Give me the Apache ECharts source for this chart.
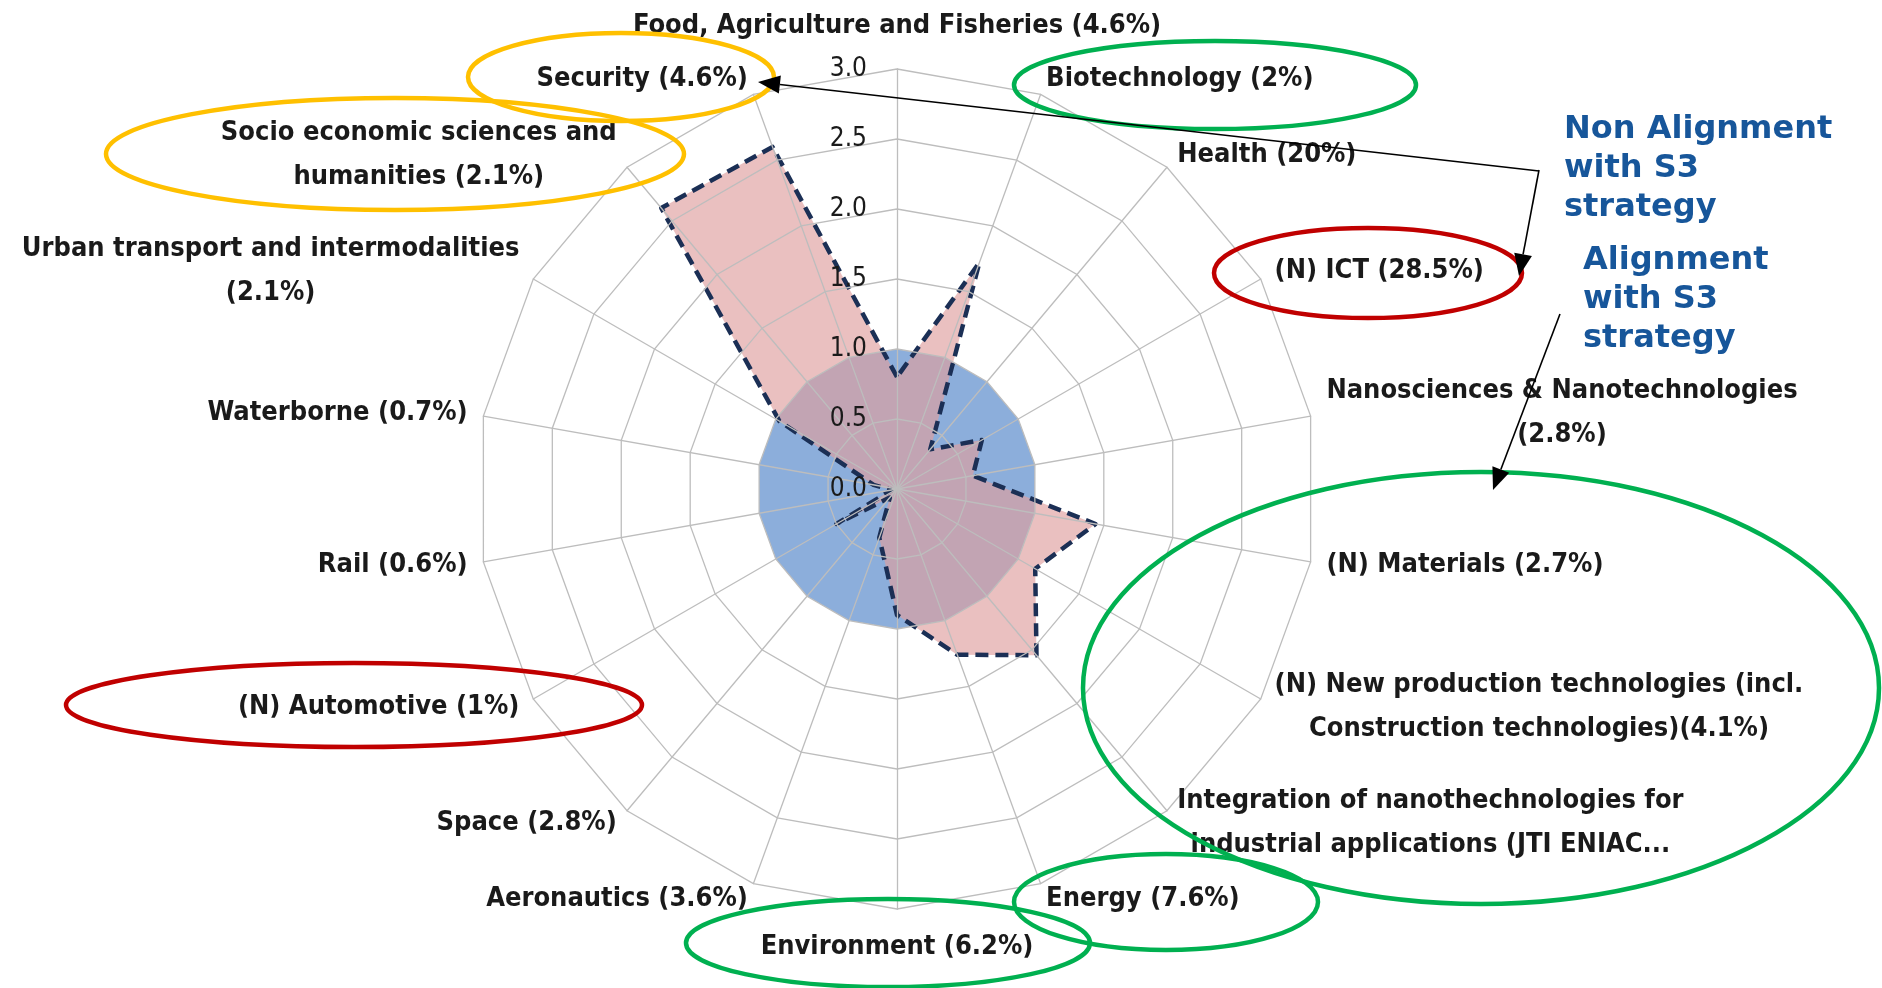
<!DOCTYPE html>
<html><head><meta charset="utf-8">
<script src="https://cdn.jsdelivr.net/npm/echarts@6/dist/echarts.min.js"></script>
<style>html,body{margin:0;padding:0;background:#fff}#c{width:1882px;height:988px}</style>
</head><body><div id="c"></div>
<script>
// Categories listed clockwise from the top
const categories = [
  'Food, Agriculture and Fisheries (4.6%)',
  'Biotechnology (2%)',
  'Health (20%)',
  '(N) ICT (28.5%)',
  'Nanosciences & Nanotechnologies\n(2.8%)',
  '(N) Materials (2.7%)',
  '(N) New production technologies (incl.\nConstruction technologies)(4.1%)',
  'Integration of nanothechnologies for\nindustrial applications (JTI ENIAC...',
  'Energy (7.6%)',
  'Environment (6.2%)',
  'Aeronautics (3.6%)',
  'Space (2.8%)',
  '(N) Automotive (1%)',
  'Rail (0.6%)',
  'Waterborne (0.7%)',
  'Urban transport and intermodalities\n(2.1%)',
  'Socio economic sciences and\nhumanities (2.1%)',
  'Security (4.6%)'
];
const regionValues   = [0.80, 1.72, 0.37, 0.70, 0.55, 1.44, 1.14, 1.55, 1.26, 0.90, 0.37, 0.08, 0.50, 0.04, 0.17, 0.97, 2.62, 2.60];
const baselineValues = [1.0, 1.0, 1.0, 1.0, 1.0, 1.0, 1.0, 1.0, 1.0, 1.0, 1.0, 1.0, 1.0, 1.0, 1.0, 1.0, 1.0, 1.0];
const axisMin = 0.0, axisMax = 3.0, axisStep = 0.5;

// ECharts radar runs counter-clockwise: reorder so the picture reads clockwise
const order = [0].concat(categories.map((_, i) => i).slice(1).reverse());
const reorder = arr => order.map(i => arr[i]);

const FONT = "'Liberation Sans Narrow', 'DejaVu Sans Condensed', 'Arial Narrow', sans-serif";
const labelColor = '#1a1a1a';
const NAME_SIZE = 27;

const indicator = reorder(categories).map((name, k) => {
  const o = { name: name, min: axisMin, max: axisMax };
  if (k === 0) o.axisLabel = { show: true };
  return o;
});

function fmtName(value) {
  const lines = value.split('\n');
  let key = 'c';
  if (value === categories[0]) key = 'top';
  if (value === categories[9]) key = 'bot';
  return lines.map(l => '{' + key + '|' + l + '}').join('\n');
}

function arrow(x1, y1, x2, y2) {
  const dx = x2 - x1, dy = y2 - y1, L = Math.hypot(dx, dy);
  const ux = dx / L, uy = dy / L, hl = 22, hw = 9;
  const bx = x2 - ux * hl, by = y2 - uy * hl;
  return [
    { type: 'line', shape: { x1: x1, y1: y1, x2: bx, y2: by }, style: { stroke: '#000', lineWidth: 1.6 }, z: 10 },
    { type: 'polygon', shape: { points: [[x2, y2], [bx - uy * hw, by + ux * hw], [bx + uy * hw, by - ux * hw]] }, style: { fill: '#000' }, z: 10 }
  ];
}
function ellipse(cx, cy, rx, ry, color) {
  return { type: 'ellipse', shape: { cx: cx, cy: cy, rx: rx, ry: ry }, style: { fill: 'none', stroke: color, lineWidth: 4.5 }, z: 9 };
}
const YEL = '#ffc000', GRN = '#00b050', RED = '#c00000', BLUE_TXT = '#17569a';
const noteFont = "bold 32px 'DejaVu Sans', Verdana, sans-serif";

const graphics = [
  ellipse(621, 77, 153, 44, YEL),
  ellipse(395, 154, 289, 56, YEL),
  ellipse(1215, 85, 201, 44, GRN),
  ellipse(1368, 273, 154, 45, RED),
  ellipse(1481, 688, 398, 216, GRN),
  ellipse(1166, 902, 152, 48, GRN),
  ellipse(888, 943, 202, 44, GRN),
  ellipse(354, 705, 288, 42, RED)
].concat(
  arrow(1539, 171, 758, 82),
  arrow(1539, 170, 1519, 276),
  arrow(1560, 314, 1493, 490),
  [
    { type: 'text', left: 1564, top: 110, z: 11, style: { text: 'Non Alignment\nwith S3\nstrategy', fill: BLUE_TXT, font: noteFont, lineHeight: 39 } },
    { type: 'text', left: 1583, top: 241, z: 11, style: { text: 'Alignment\nwith S3\nstrategy', fill: BLUE_TXT, font: noteFont, lineHeight: 39 } }
  ]
);

const chart = echarts.init(document.getElementById('c'), null, { renderer: 'canvas' });
chart.setOption({
  backgroundColor: '#ffffff',
  animation: false,
  radar: {
    z: 3,
    center: [897, 489],
    radius: 420,
    startAngle: 90,
    shape: 'polygon',
    splitNumber: Math.round((axisMax - axisMin) / axisStep),
    nameGap: 16,
    indicator: indicator,
    axisName: {
      color: labelColor,
      fontFamily: FONT,
      fontSize: NAME_SIZE,
      fontWeight: 'bold',
      formatter: fmtName,
      rich: {
        c: { align: 'center', fontFamily: FONT, fontSize: NAME_SIZE, fontWeight: 'bold', color: labelColor, lineHeight: 44 },
        top: { align: 'center', fontFamily: FONT, fontSize: NAME_SIZE, fontWeight: 'bold', color: labelColor, padding: [0, 0, 14, 0] },
        bot: { align: 'center', fontFamily: FONT, fontSize: NAME_SIZE, fontWeight: 'bold', color: labelColor, padding: [8, 0, 0, 0] }
      }
    },
    splitLine: { lineStyle: { color: '#bdbdbd', width: 1.3 } },
    splitArea: { show: false },
    axisLine: { lineStyle: { color: '#bdbdbd', width: 1.3 } },
    axisTick: { show: false },
    axisLabel: {
      show: false,
      margin: 30,
      color: '#1a1a1a',
      fontFamily: FONT,
      fontSize: 26,
      formatter: v => Number(v).toFixed(1)
    }
  },
  series: [{
    type: 'radar',
    z: 2,
    symbol: 'none',
    data: [
      {
        name: 'Baseline',
        value: reorder(baselineValues),
        lineStyle: { width: 0, opacity: 0 },
        areaStyle: { color: '#8caedb', opacity: 1 }
      },
      {
        name: 'Region',
        value: reorder(regionValues),
        lineStyle: { width: 0, opacity: 0 },
        areaStyle: { color: '#df9e9e', opacity: 0.65 }
      },
      {
        name: 'Region outline',
        value: reorder(regionValues),
        lineStyle: { color: '#1b2f55', width: 4.5, type: [13, 7], opacity: 1 }
      }
    ]
  }],
  graphic: graphics
});
</script>
</body></html>
